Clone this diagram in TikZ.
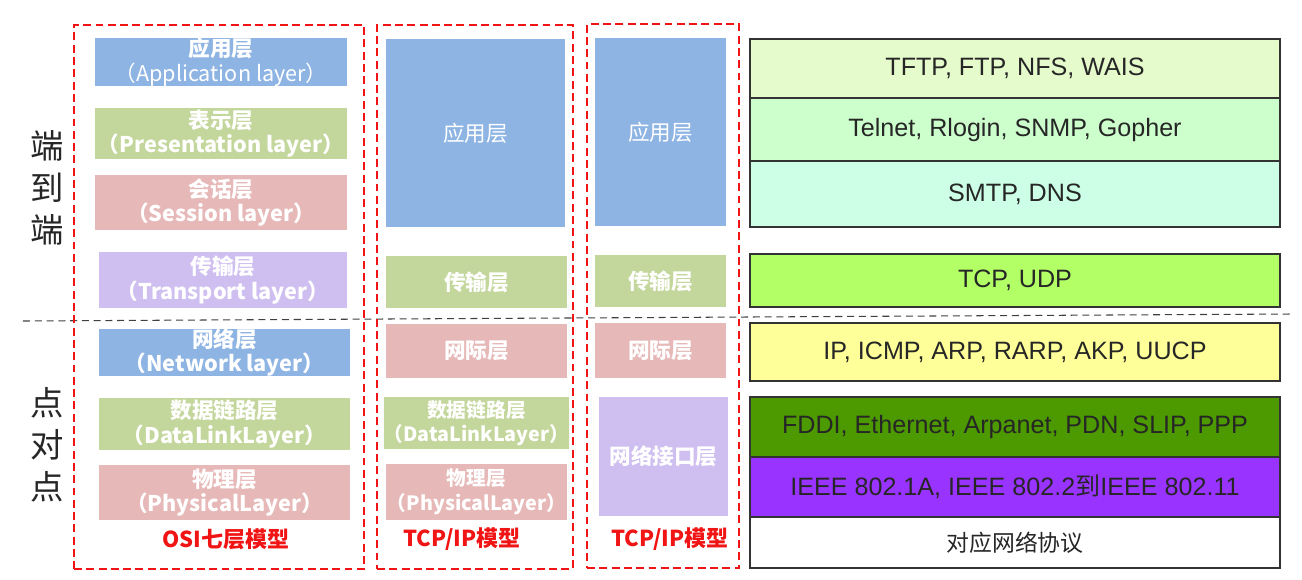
\documentclass[tikz,border=0pt]{standalone}
\usepackage{fontspec}
\setmainfont{Liberation Sans}
\newfontfamily\cjk{Noto Sans CJK SC}
\definecolor{appblue}{RGB}{142,180,227}
\definecolor{tpgreen}{RGB}{195,214,155}
\definecolor{netpink}{RGB}{230,185,184}
\definecolor{ifpurple}{RGB}{207,191,240}
\definecolor{modelred}{RGB}{240,20,20}
\definecolor{edgegray}{RGB}{51,51,51}
\definecolor{ftpgreen}{RGB}{230,251,203}
\definecolor{telgreen}{RGB}{204,255,204}
\definecolor{smtpmint}{RGB}{204,255,229}
\definecolor{tcplime}{RGB}{178,255,102}
\definecolor{ipyellow}{RGB}{255,255,153}
\definecolor{linkgreen}{RGB}{76,153,0}
\definecolor{ieeeviolet}{RGB}{153,51,255}
\begin{document}
\begin{tikzpicture}[x=0.02cm,y=-0.02cm,
  sz/.style 2 args={minimum width=#1*0.02cm,minimum height=#2*0.02cm},
  layer/.style={fill=#1,draw=white,line width=0.6pt,inner sep=0pt,text=white,
    align=center,font=\cjk\bfseries\fontsize{12.3}{14}\selectfont},
  narrow/.style={font=\cjk\bfseries\fontsize{11.2}{14}\selectfont},
  model/.style={draw=modelred,line width=1.1pt,dash pattern=on 4.5pt off 2.5pt,inner sep=0pt},
  modelname/.style={text=modelred,font=\cjk\bfseries\fontsize{12.5}{14}\selectfont},
  proto/.style={fill=#1,draw=edgegray,line width=1.6pt,inner sep=0pt,text=black!85,
    minimum width=530*0.02cm,font=\fontsize{14.3}{16}\selectfont},
  side/.style={text=black!85,align=center,font=\cjk\fontsize{19}{24}\selectfont},
  sepline/.style={draw=black!75,line width=0.6pt,dash pattern=on 4pt off 2.7pt}]
\useasboundingbox (0,0) rectangle (1302,579);

% end-to-end / point-to-point divider
\coordinate (sepL) at (23,321);
\coordinate (sepR) at (1292,314);
\draw[sepline] (sepL) -- (sepR);

\node[side] (e2e) at (47,188) {端\\到\\端};
\node[side] (p2p) at (47,445) {点\\对\\点};

% OSI model
\node[model,sz={290}{544}] (osibox) at (219,297) {};
\node[layer=appblue,sz={254}{48}] (osiapp) at (221,62)
  {应用层\\{\mdseries （Application layer）}};
\node[layer=tpgreen,sz={254}{53}] (osipre) at (221,133.5)
  {表示层\\（Presentation layer）};
\node[layer=netpink,sz={254}{57}] (osises) at (221,202.5)
  {会话层\\（Session layer）};
\node[layer=ifpurple,sz={250}{58}] (ositra) at (223,280)
  {传输层\\（Transport layer）};
\node[layer=appblue,sz={253}{47}] (osinet) at (224.5,352.5)
  {网络层\\（Network layer）};
\node[layer=tpgreen,sz={253}{54}] (osidl) at (224.5,424)
  {数据链路层\\（DataLinkLayer）};
\node[layer=netpink,sz={253}{57}] (osiphy) at (224.5,492.5)
  {物理层\\（PhysicalLayer）};
\node[modelname] (osiname) at (226,539) {OSI七层模型};

% TCP/IP model, five layers
\node[model,sz={196}{544}] (tcpbox) at (475,297) {};
\node[layer=appblue,sz={181}{190}] (tcpapp) at (475.5,133) {\mdseries 应用层};
\node[layer=tpgreen,sz={183}{54}] (tcptra) at (476.5,282) {传输层};
\node[layer=netpink,sz={183}{56}] (tcpnet) at (476.5,351) {网际层};
\node[layer=tpgreen,narrow,sz={183}{54}] (tcpdl) at (476.5,423)
  {数据链路层\\（DataLinkLayer）};
\node[layer=netpink,narrow,sz={183}{58}] (tcpphy) at (476.5,492)
  {物理层\\（PhysicalLayer）};
\node[modelname] (tcpname) at (462,539) {TCP/IP模型};

% TCP/IP model, four layers
\node[model,sz={152}{544}] (ipbox) at (663,296) {};
\node[layer=appblue,sz={133}{190}] (ipapp) at (660.5,132) {\mdseries 应用层};
\node[layer=tpgreen,sz={133}{54}] (iptra) at (660.5,281) {传输层};
\node[layer=netpink,sz={133}{57}] (ipnet) at (660.5,350.5) {网际层};
\node[layer=ifpurple,sz={131}{121}] (ipif) at (663.5,456.5) {网络接口层};
\node[modelname] (ipname) at (670,539) {TCP/IP模型};

% protocols
\node[proto=ftpgreen,minimum height=59*0.02cm] (ftp) at (1015,68.5) {TFTP, FTP, NFS, WAIS};
\node[proto=telgreen,minimum height=63*0.02cm] (telnet) at (1015,129.5) {Telnet, Rlogin, SNMP, Gopher};
\node[proto=smtpmint,minimum height=66*0.02cm] (smtp) at (1015,194) {SMTP, DNS};
\node[proto=tcplime,minimum height=53*0.02cm] (tcpudp) at (1015,280.5) {TCP, UDP};
\node[proto=ipyellow,minimum height=58*0.02cm] (ipproto) at (1015,352) {IP, ICMP, ARP, RARP, AKP, UUCP};
\node[proto=linkgreen,minimum height=60*0.02cm] (fddi) at (1015,427) {FDDI, Ethernet, Arpanet, PDN, SLIP, PPP};
\node[proto=ieeeviolet,minimum height=60*0.02cm] (ieee) at (1015,487) {IEEE 802.1A, IEEE 802.2{\cjk 到}IEEE 802.11};
\node[proto=white,minimum height=51*0.02cm,font=\cjk\fontsize{13}{15}\selectfont] (legend) at (1015,542.5) {对应网络协议};
\end{tikzpicture}
\end{document}
